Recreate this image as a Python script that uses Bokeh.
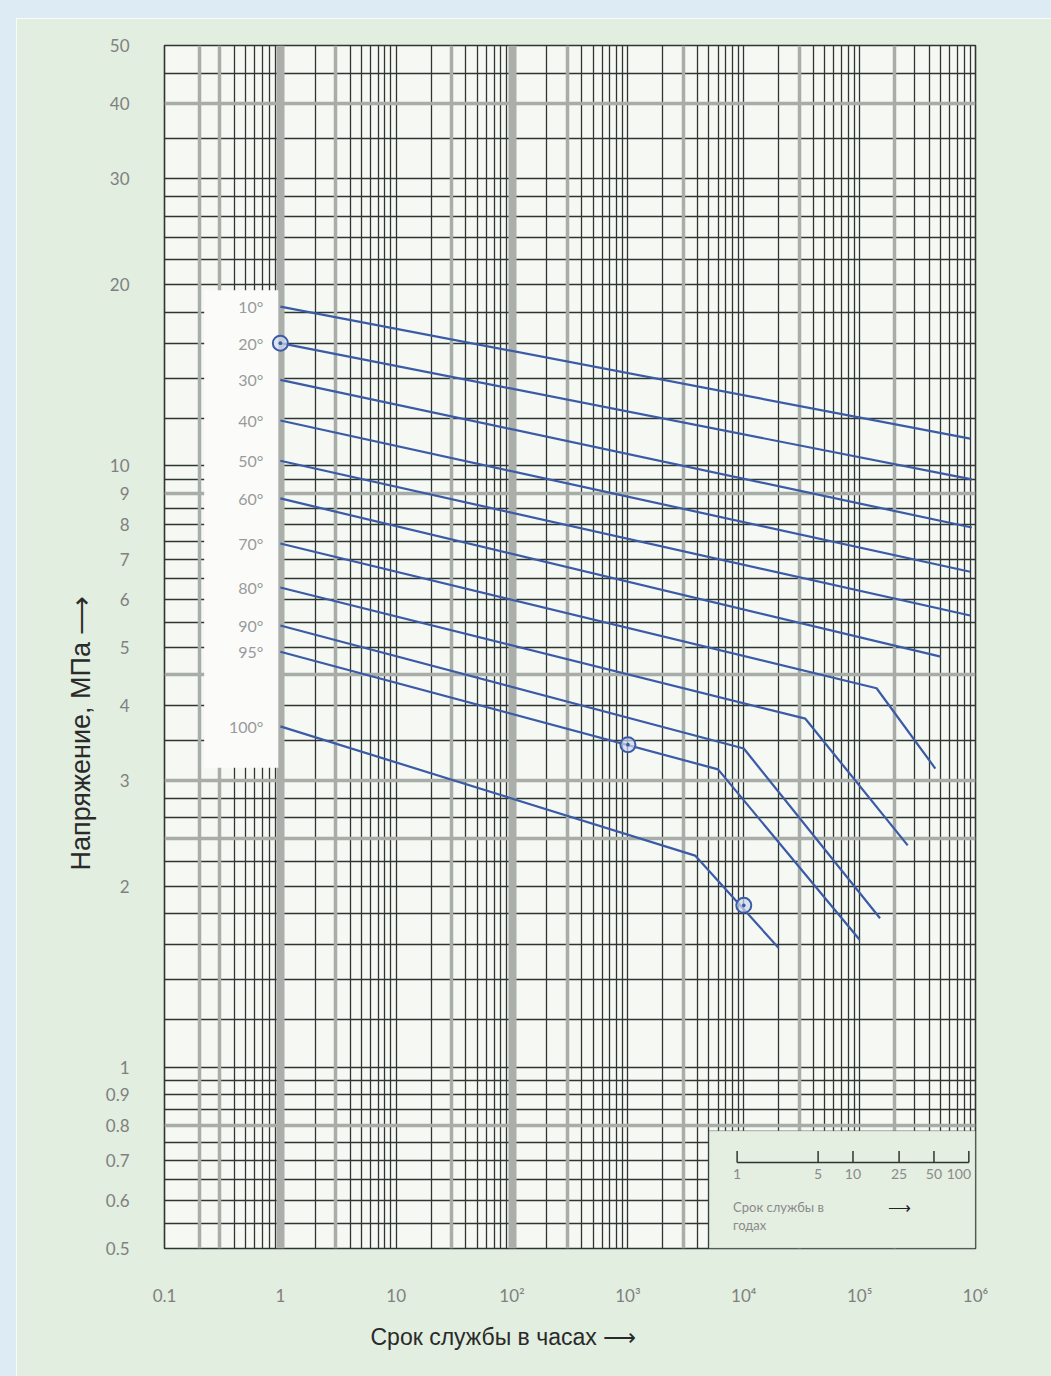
from bokeh.plotting import figure
from bokeh.models import FixedTicker, Grid, BoxAnnotation, Range1d, Title, Div
from bokeh.layouts import column, row
from bokeh.core.properties import value
from bokeh.embed import file_html
from bokeh.resources import INLINE

# ---------------- data ----------------
temps = ["10°", "20°", "30°", "40°", "50°", "60°", "70°", "80°", "90°", "95°", "100°"]
hours_10 = [1, 9.0e5];            stress_10 = [18.4, 11.1]
hours_20 = [1, 9.3e5];            stress_20 = [16.0, 9.5]
hours_30 = [1, 9.3e5];            stress_30 = [13.9, 7.9]
hours_40 = [1, 9.0e5];            stress_40 = [11.9, 6.67]
hours_50 = [1, 9.0e5];            stress_50 = [10.2, 5.64]
hours_60 = [1, 5.0e5];            stress_60 = [8.83, 4.82]
hours_70 = [1, 1.4e5, 4.5e5];     stress_70 = [7.43, 4.27, 3.14]
hours_80 = [1, 3.4e4, 2.6e5];     stress_80 = [6.28, 3.80, 2.34]
hours_90 = [1, 1.0e4, 1.5e5];     stress_90 = [5.43, 3.39, 1.77]
hours_95 = [1, 6.0e3, 1.0e5];     stress_95 = [4.91, 3.13, 1.63]
hours_100 = [1, 3.8e3, 2.0e4];    stress_100 = [3.69, 2.25, 1.58]
curves_hours = [hours_10, hours_20, hours_30, hours_40, hours_50, hours_60,
                hours_70, hours_80, hours_90, hours_95, hours_100]
curves_stress = [stress_10, stress_20, stress_30, stress_40, stress_50, stress_60,
                 stress_70, stress_80, stress_90, stress_95, stress_100]

marker_hours = [1, 1.0e3, 1.0e4]
marker_stress = [16.0, 3.44, 1.86]

x_ticks = [0.1, 1, 10, 100, 1e3, 1e4, 1e5, 1e6]
x_tick_labels = ["0.1", "1", "10", "10²", "10³", "10⁴", "10⁵", "10⁶"]
y_ticks = [0.5, 0.6, 0.7, 0.8, 0.9, 1, 2, 3, 4, 5, 6, 7, 8, 9, 10, 20, 30, 40, 50]
y_tick_labels = ["0.5", "0.6", "0.7", "0.8", "0.9", "1", "2", "3", "4", "5",
                 "6", "7", "8", "9", "10", "20", "30", "40", "50"]

# grid paper lines
y_grid = [0.55, 0.6, 0.65, 0.7, 0.75, 0.85, 0.9, 0.95, 1.0, 1.2, 1.4, 1.6, 1.8, 2.0,
          2.2, 2.6, 2.8, 3.5, 4, 5, 5.5, 6, 6.5, 7, 7.5, 8, 8.5, 9.5, 10,
          12, 14, 16, 18, 20, 22, 24, 26, 28, 30, 35, 45, 50]
y_grid_gray = [40, 9, 4.5, 3, 2.4, 0.8]
x_grid = [m * 10.0 ** k for k in range(-1, 6) for m in range(1, 10)
          if not (m == 1 and k in (0, 2))] + [1e6]
x_grid_gray = [0.2, 0.3, 3, 30, 300, 3000, 3e4, 2e5]
x_grid_band = [1, 100]

years = [1, 5, 10, 25, 50, 100]
year_labels = ["1", "5", "10", "25", "50", "100"]
HOURS_PER_YEAR = 8760

# ---------------- figure ----------------
PAGE_W, PAGE_H = 1051, 1376
TOP_STRIP, LEFT_STRIP = 18, 16
W = PAGE_W - LEFT_STRIP
H = PAGE_H - TOP_STRIP
FRAME_L, FRAME_R, FRAME_T, FRAME_B = 164, 975, 45, 1248
p = figure(width=W, height=H, x_axis_type="log", y_axis_type="log",
           x_range=Range1d(0.1, 1e6), y_range=Range1d(0.5, 50),
           output_backend="svg", toolbar_location=None,
           min_border_left=FRAME_L - LEFT_STRIP, min_border_right=PAGE_W - FRAME_R,
           min_border_top=FRAME_T - TOP_STRIP, min_border_bottom=PAGE_H - FRAME_B)
p.background_fill_color = "#f5f8f3"
p.border_fill_color = "#e2eedf"
p.outline_line_color = "#2f3530"
p.outline_line_width = 1.6

GRID_DARK = "#2f3530"
p.xgrid.ticker = FixedTicker(ticks=x_grid)
p.ygrid.ticker = FixedTicker(ticks=y_grid)
for g in (p.xgrid[0], p.ygrid[0]):
    g.grid_line_color = GRID_DARK
    g.grid_line_width = 1.3
    g.grid_line_alpha = 1.0
    g.level = "image"

gx = Grid(dimension=0, ticker=FixedTicker(ticks=x_grid_gray), grid_line_color="#a8ada7",
          grid_line_width=3.5, level="image")
gy = Grid(dimension=1, ticker=FixedTicker(ticks=y_grid_gray), grid_line_color="#a8ada7",
          grid_line_width=3.5, level="image")
gb = Grid(dimension=0, ticker=FixedTicker(ticks=x_grid_band), grid_line_color="#abafaa",
          grid_line_width=8, level="image")
for g in (gx, gy, gb):
    p.add_layout(g)

# axes
for ax, ticks, labels in ((p.xaxis[0], x_ticks, x_tick_labels),
                          (p.yaxis[0], y_ticks, y_tick_labels)):
    ax.ticker = FixedTicker(ticks=ticks)
    ax.major_label_overrides = {t: l for t, l in zip(ticks, labels)}
    ax.axis_line_color = None
    ax.major_tick_line_color = None
    ax.minor_tick_line_color = None
    ax.major_label_text_color = "#808080"
    ax.major_label_text_font = "Lato"
    ax.major_label_text_font_size = "17px"
p.xaxis.major_label_standoff = 30
p.yaxis.major_label_standoff = 29

# white box behind temperature labels
p.add_layout(BoxAnnotation(left=0.22, right=0.96, top=19.6, bottom=3.15,
                           fill_color="#fbfcfa", fill_alpha=1.0, line_color=None,
                           level="underlay"))
# inset (years) box
p.add_layout(BoxAnnotation(left=5000, top=0.785,
                           fill_color="#e4eee1", fill_alpha=1.0,
                           line_color="#333333", line_width=1.4, level="underlay"))

# curves
LINE = "#3b5ba6"
for hrs, st in zip(curves_hours, curves_stress):
    p.line(hrs, st, line_color=LINE, line_width=2.2)

p.scatter(marker_hours, marker_stress, marker="circle_dot", size=15,
          line_color=LINE, line_width=2, fill_color="#cfd8ec", fill_alpha=0.7)

# temperature labels at curve starts
p.text(x=[h[0] for h in curves_hours], y=[s[0] for s in curves_stress], text=temps,
       x_offset=-17, text_align="right", text_baseline="middle",
       text_color="#9a9a9a", text_font=value("Lato"), text_font_size="16px")

# inset years axis
AX_Y = 0.695
yr_hours = [y * HOURS_PER_YEAR for y in years]
p.line([yr_hours[0], yr_hours[-1]], [AX_Y, AX_Y], line_color="#333333", line_width=1.5)
p.segment(x0=yr_hours, y0=[AX_Y] * len(years), x1=yr_hours, y1=[AX_Y * 1.045] * len(years),
          line_color="#333333", line_width=1.5)
p.text(x=yr_hours, y=[AX_Y] * len(years), text=year_labels, y_offset=7,
       x_offset=[0, 0, 0, 0, 0, -10],
       text_align="center", text_baseline="top", text_color="#8a8a8a",
       text_font=value("Lato"), text_font_size="14px")
p.text(x=[yr_hours[0]], y=[0.585], text=["Срок службы в"], x_offset=-4,
       text_align="left", text_baseline="middle", text_color="#8a8a8a",
       text_font=value("Lato"), text_font_size="13px")
p.text(x=[yr_hours[0]], y=[0.548], text=["годах"], x_offset=-4,
       text_align="left", text_baseline="middle", text_color="#8a8a8a",
       text_font=value("Lato"), text_font_size="13px")
p.text(x=[yr_hours[3]], y=[0.585], text=["⟶"], text_align="center",
       text_baseline="middle", text_color="#222222", text_font_size="16px")

# axis titles (as side titles so they can be offset along the frame)
p.add_layout(Title(text="Напряжение, МПа  ⟶", align="left", offset=378, standoff=14,
                   text_font="Liberation Sans", text_font_size="27px",
                   text_font_style="normal", text_color="#2a2a2a"), "left")
p.add_layout(Title(text="Срок службы в часах   ⟶", align="left", offset=206, standoff=27,
                   text_font="Liberation Sans", text_font_size="23px",
                   text_font_style="normal", text_color="#2a2a2a"), "below")

top_strip = Div(width=PAGE_W, height=TOP_STRIP, margin=0,
                styles={"background-color": "#dcebf4"})
left_strip = Div(width=LEFT_STRIP, height=H, margin=0,
                 styles={"background-color": "#dcebf4"})
layout = column(top_strip, row(left_strip, p, spacing=0), spacing=0)

open("out.html", "w").write(file_html(layout, INLINE))
